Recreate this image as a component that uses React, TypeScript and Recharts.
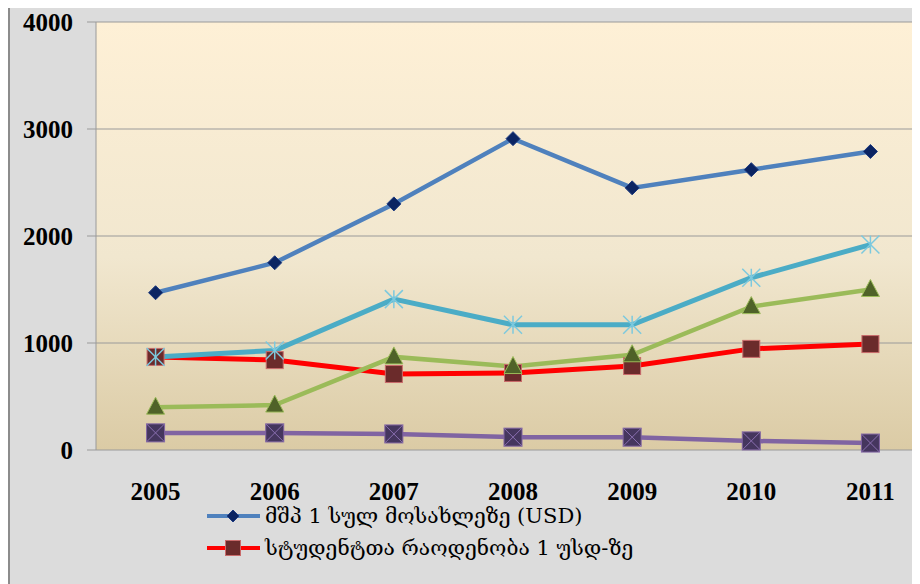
import { LineChart, Line, XAxis, YAxis, CartesianGrid } from 'recharts';

const years = ['2005', '2006', '2007', '2008', '2009', '2010', '2011'];
const gdpPerCapita = [1470, 1750, 2300, 2910, 2450, 2620, 2790];
const studentsPerUni = [870, 840, 710, 720, 785, 945, 990];
const seriesGreen = [400, 420, 870, 780, 890, 1340, 1500];
const seriesPurple = [160, 160, 150, 120, 120, 85, 65];
const seriesCyan = [870, 930, 1410, 1170, 1170, 1610, 1920];
const yTicks = [0, 1000, 2000, 3000, 4000];

const NAME_GDP = 'მშპ 1 სულ მოსახლეზე (USD)';
const NAME_STUD = 'სტუდენტთა რაოდენობა 1 უსდ-ზე';

const data = years.map((y, i) => ({
  idx: i,
  year: y,
  gdp: gdpPerCapita[i],
  stud: studentsPerUni[i],
  green: seriesGreen[i],
  purple: seriesPurple[i],
  cyan: seriesCyan[i],
}));

const labelTicks = years.map((_, i) => i);
const boundaryTicks = years.map((_, i) => i - 0.5).concat([years.length - 0.5]);

const tickFont = { fontFamily: '"Liberation Serif", serif', fontWeight: 700, fontSize: 25, fill: '#000' };

function Diamond({ cx, cy, half = 7 }: any) {
  if (cx == null || cy == null) return null;
  const r = half;
  return <polygon points={`${cx},${cy - r} ${cx + r},${cy} ${cx},${cy + r} ${cx - r},${cy}`} fill="#0b2462" stroke="#1c3a80" strokeWidth={1} />;
}

function RedSquare({ cx, cy, side = 17 }: any) {
  if (cx == null || cy == null) return null;
  const s = side;
  return <rect x={cx - s / 2} y={cy - s / 2} width={s} height={s} fill="#6b2b2b" stroke="#c96b6b" strokeWidth={1} />;
}

function Triangle({ cx, cy }: any) {
  if (cx == null || cy == null) return null;
  return <polygon points={`${cx},${cy - 10} ${cx + 9},${cy + 7} ${cx - 9},${cy + 7}`} fill="#4f6228" stroke="#9bbb59" strokeWidth={1} />;
}

function XSquare({ cx, cy }: any) {
  if (cx == null || cy == null) return null;
  const s = 9;
  return (
    <g>
      <rect x={cx - s} y={cy - s} width={2 * s} height={2 * s} fill="#45365e" stroke="#8064a2" strokeWidth={1} />
      <line x1={cx - s} y1={cy - s} x2={cx + s} y2={cy + s} stroke="#8a6fb0" strokeWidth={1} />
      <line x1={cx - s} y1={cy + s} x2={cx + s} y2={cy - s} stroke="#8a6fb0" strokeWidth={1} />
    </g>
  );
}

function Star({ cx, cy }: any) {
  if (cx == null || cy == null) return null;
  const s = 9;
  const c = '#7cc9de';
  return (
    <g stroke={c} strokeWidth={1.5}>
      <line x1={cx} y1={cy - s} x2={cx} y2={cy + s} />
      <line x1={cx - s} y1={cy - s} x2={cx + s} y2={cy + s} />
      <line x1={cx - s} y1={cy + s} x2={cx + s} y2={cy - s} />
    </g>
  );
}

function LegendBox() {
  const rows = [
    { name: NAME_GDP, color: '#4f81bd', marker: <Diamond cx={26} cy={8} half={6} /> },
    { name: NAME_STUD, color: '#ff0000', marker: <RedSquare cx={26} cy={8} side={15} /> },
  ];
  return (
    <div style={{ position: 'absolute', left: 197, top: 493 }}>
      {rows.map((r) => (
        <div key={r.name} style={{ display: 'flex', alignItems: 'center', height: 32, whiteSpace: 'nowrap' }}>
          <svg width={54} height={16} style={{ overflow: 'visible' }}>
            <line x1={0} y1={8} x2={53} y2={8} stroke={r.color} strokeWidth={4} />
            {r.marker}
          </svg>
          <span style={{ fontFamily: '"DejaVu Serif", "DejaVu Sans", serif', fontSize: 21, color: '#000', marginLeft: 4 }}>{r.name}</span>
        </div>
      ))}
    </div>
  );
}

export default function App() {
  return (
    <div
      style={{
        marginTop: -3,
        width: 912,
        height: 579,
        overflow: 'hidden',
        background: '#dcdcdc',
        borderTop: '2px solid #8c8c8c',
        borderLeft: '2px solid #8c8c8c',
        boxSizing: 'border-box',
        position: 'relative',
      }}
    >
      <LineChart width={940} height={600} data={data} margin={{ top: 15, right: 20, left: 0, bottom: 107 }}>
        <defs>
          <linearGradient id="plotBg" x1="0" y1="0" x2="0" y2="1">
            <stop offset="0%" stopColor="#fef0d6" />
            <stop offset="55%" stopColor="#f1e7cf" />
            <stop offset="100%" stopColor="#dbcba5" />
          </linearGradient>
        </defs>
        <CartesianGrid vertical={false} stroke="#9a9a9a" strokeWidth={1} fill="url(#plotBg)" fillOpacity={1} />
        <YAxis
          domain={[0, 4000]}
          ticks={yTicks}
          width={86}
          tick={tickFont}
          tickSize={9}
          tickMargin={14}
          tickLine={{ stroke: '#9a9a9a' }}
          axisLine={{ stroke: '#9a9a9a' }}
          interval={0}
        />
        <XAxis
          xAxisId="labels"
          dataKey="idx"
          type="number"
          domain={[-0.5, years.length - 0.5]}
          ticks={labelTicks}
          tickFormatter={(v: number) => years[v]}
          tick={tickFont}
          tickSize={0}
          tickMargin={32}
          axisLine={false}
          interval={0}
          height={50}
        />
        <XAxis
          dataKey="idx"
          type="number"
          domain={[-0.5, years.length - 0.5]}
          ticks={boundaryTicks}
          tick={false}
          tickSize={9}
          tickLine={{ stroke: '#9a9a9a' }}
          axisLine={{ stroke: '#9a9a9a' }}
          interval={0}
          height={0}
        />
        <Line type="linear" dataKey="gdp" name={NAME_GDP} stroke="#4f81bd" strokeWidth={4.5} dot={<Diamond />} activeDot={false} isAnimationActive={false} />
        <Line type="linear" dataKey="stud" name={NAME_STUD} stroke="#ff0000" strokeWidth={5} dot={<RedSquare />} activeDot={false} isAnimationActive={false} />
        <Line type="linear" dataKey="green" name="series 3" stroke="#9bbb59" strokeWidth={4.5} dot={<Triangle />} activeDot={false} isAnimationActive={false} />
        <Line type="linear" dataKey="purple" name="series 4" stroke="#8064a2" strokeWidth={4.5} dot={<XSquare />} activeDot={false} isAnimationActive={false} />
        <Line type="linear" dataKey="cyan" name="series 5" stroke="#4bacc6" strokeWidth={5} dot={<Star />} activeDot={false} isAnimationActive={false} />
      </LineChart>
      <LegendBox />
    </div>
  );
}
